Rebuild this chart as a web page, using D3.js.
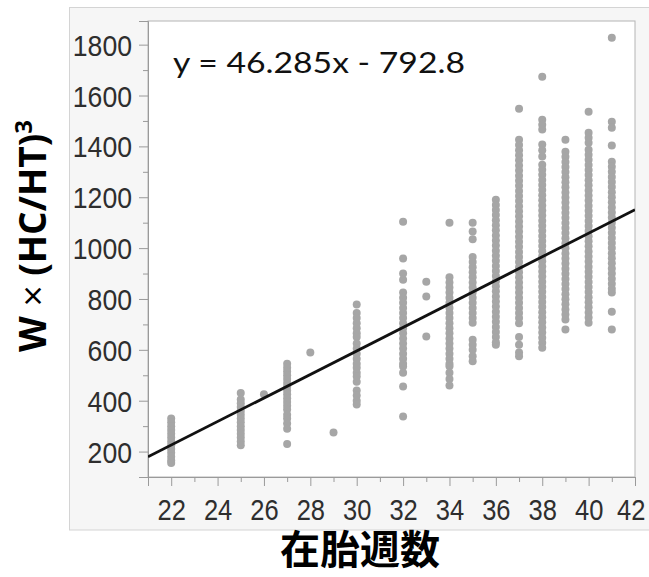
<!DOCTYPE html>
<html>
<head>
<meta charset="utf-8">
<script src="https://cdn.jsdelivr.net/npm/d3@7"></script>
<style>
  html, body { margin: 0; padding: 0; background: #ffffff; }
  svg { display: block; }
</style>
</head>
<body>
<svg id="chart" width="649" height="577"></svg>
<script>
// Gestational week (x) and W×(HC/HT)³ measurements (y), one array per week
const w22 = [330, 315, 300, 285, 270, 255, 240, 225, 210, 195, 180, 165, 155];
const w25 = [430, 405, 390, 375, 360, 345, 330, 315, 300, 285, 270, 255, 240, 225];
const w26 = [425];
const w27 = [545, 530, 515, 500, 485, 470, 455, 440, 425, 410, 395, 380, 365, 345, 330, 310, 290, 230];
const w28 = [590];
const w29 = [275];
const w30 = [778, 745, 725, 705, 685, 665, 650, 625, 605, 585, 565, 545, 530, 510, 495, 475, 440, 420, 400, 385];
const w32 = [1104, 959, 900, 876, 825, 805, 785, 765, 745, 725, 705, 685, 665, 645, 625, 605, 585, 565, 545, 534, 510, 456, 338];
const w33 = [868, 810, 652];
const w34 = [1100, 885, 865, 845, 825, 805, 785, 765, 745, 725, 705, 685, 665, 645, 625, 605, 585, 565, 545, 535, 510, 485, 460];
const w35 = [1100, 1065, 1035, 965, 945, 925, 905, 885, 865, 845, 825, 805, 785, 765, 745, 725, 707, 640, 620, 600, 575, 555];
const w36 = [1190, 1170, 1150, 1130, 1110, 1090, 1070, 1050, 1030, 1010, 990, 970, 950, 930, 910, 890, 870, 850, 830, 810, 790, 770, 750, 730, 710, 690, 670, 650, 630, 620];
const w37 = [1548, 1426, 1405, 1385, 1365, 1345, 1325, 1305, 1285, 1265, 1245, 1225, 1205, 1185, 1165, 1145, 1125, 1105, 1085, 1065, 1045, 1025, 1005, 985, 965, 945, 925, 905, 885, 865, 845, 825, 805, 785, 765, 745, 725, 705, 650, 620, 590, 575];
const w38 = [1674, 1505, 1485, 1466, 1407, 1385, 1360, 1328, 1308, 1288, 1268, 1248, 1228, 1208, 1188, 1168, 1148, 1128, 1108, 1088, 1068, 1048, 1028, 1008, 988, 968, 948, 928, 908, 888, 868, 848, 828, 808, 788, 768, 748, 728, 708, 688, 668, 648, 628, 608];
const w39 = [1426, 1379, 1359, 1339, 1319, 1299, 1279, 1259, 1239, 1219, 1199, 1179, 1159, 1139, 1119, 1099, 1079, 1059, 1039, 1019, 999, 979, 959, 939, 919, 899, 879, 859, 839, 819, 799, 779, 759, 739, 719, 680];
const w40 = [1536, 1454, 1434, 1414, 1387, 1367, 1347, 1327, 1307, 1287, 1267, 1247, 1227, 1207, 1187, 1167, 1147, 1127, 1107, 1087, 1067, 1047, 1027, 1007, 987, 967, 947, 927, 907, 887, 867, 847, 827, 807, 787, 767, 747, 727, 707];
const w41 = [1827, 1497, 1473, 1403, 1340, 1320, 1300, 1280, 1260, 1240, 1220, 1200, 1180, 1160, 1140, 1120, 1100, 1080, 1060, 1040, 1020, 1000, 980, 960, 940, 920, 900, 880, 860, 840, 825, 750, 680];

const weeks = [22, 25, 26, 27, 28, 29, 30, 32, 33, 34, 35, 36, 37, 38, 39, 40, 41];
const weekValues = [w22, w25, w26, w27, w28, w29, w30, w32, w33, w34, w35, w36, w37, w38, w39, w40, w41];

// Regression fit y = slope·x + intercept
const slope = 46.285;
const intercept = -792.8;
const equationLabel = "y = 46.285x - 792.8";

const xTicks = [22, 24, 26, 28, 30, 32, 34, 36, 38, 40, 42];
const xMinorTicks = [21, 23, 25, 27, 29, 31, 33, 35, 37, 39, 41];
const yTicks = [200, 400, 600, 800, 1000, 1200, 1400, 1600, 1800];
const yMinorTicks = [100, 300, 500, 700, 900, 1100, 1300, 1500, 1700];

const xTitle = "在胎週数";

const points = [];
weeks.forEach((wk, i) => weekValues[i].forEach(v => points.push({ week: wk, value: v })));

const svg = d3.select("#chart");

const plot = { left: 148, right: 635, top: 21, bottom: 477 };

const x = d3.scaleLinear().domain([21, 42]).range([plot.left, plot.right]);
const y = d3.scaleLinear().domain([100, 1893]).range([plot.bottom, plot.top]);

// Outer panel
svg.append("rect")
  .attr("x", 69.5).attr("y", 7.5)
  .attr("width", 600).attr("height", 522.5)
  .attr("fill", "#f6f6f6")
  .attr("stroke", "#d4d4d4");

// Plot area
svg.append("rect")
  .attr("x", plot.left).attr("y", plot.top)
  .attr("width", plot.right - plot.left).attr("height", plot.bottom - plot.top)
  .attr("fill", "#ffffff")
  .attr("stroke", "#b4b4b4")
  .attr("stroke-width", 1);

const tickFont = "'Liberation Sans Narrow', 'Liberation Sans', Arial, sans-serif";

// Y axis (major + minor)
const yAxis = svg.append("g")
  .attr("transform", `translate(${plot.left},0)`)
  .call(d3.axisLeft(y).tickValues(yTicks).tickSize(9).tickPadding(7).tickFormat(d3.format("d")));
svg.append("g")
  .attr("transform", `translate(${plot.left},0)`)
  .call(d3.axisLeft(y).tickValues(yMinorTicks).tickSize(5).tickFormat(""))
  .call(g => g.select(".domain").remove());

// X axis (major + minor)
const xAxis = svg.append("g")
  .attr("transform", `translate(0,${plot.bottom})`)
  .call(d3.axisBottom(x).tickValues(xTicks).tickSize(9).tickPadding(8).tickFormat(d3.format("d")));
svg.append("g")
  .attr("transform", `translate(0,${plot.bottom})`)
  .call(d3.axisBottom(x).tickValues(xMinorTicks).tickSize(5).tickFormat(""))
  .call(g => g.select(".domain").remove());

svg.selectAll(".tick line").attr("stroke", "#9a9a9a");
svg.selectAll(".domain").attr("stroke", "#9a9a9a");

yAxis.selectAll("text")
  .attr("font-family", tickFont)
  .attr("font-size", 30)
  .attr("fill", "#2e2e2e")
  .attr("dy", "10.5px")
  .attr("x", -16)
  .attr("textLength", d => String(d).length * 14.8)
  .attr("lengthAdjust", "spacingAndGlyphs");

// Last x label sits at the panel edge, so it is right-anchored inside it
const lastX = xTicks[xTicks.length - 1];
xAxis.selectAll("text")
  .attr("font-family", tickFont)
  .attr("font-size", 30)
  .attr("fill", "#2e2e2e")
  .attr("dy", 0)
  .attr("y", 43)
  .attr("text-anchor", d => (d === lastX ? "end" : "middle"))
  .attr("x", d => (d === lastX ? 10 : 0))
  .attr("textLength", d => String(d).length * 14.2)
  .attr("lengthAdjust", "spacingAndGlyphs");

// Scatter points
const clipId = "plot-clip";
svg.append("clipPath").attr("id", clipId)
  .append("rect")
  .attr("x", plot.left).attr("y", plot.top)
  .attr("width", plot.right - plot.left).attr("height", plot.bottom - plot.top);

svg.append("g")
  .attr("clip-path", `url(#${clipId})`)
  .selectAll("circle")
  .data(points)
  .join("circle")
  .attr("cx", d => x(d.week))
  .attr("cy", d => y(d.value))
  .attr("r", 4)
  .attr("fill", "#a6a6a6");

// Regression line
const [x0, x1] = x.domain();
svg.append("line")
  .attr("clip-path", `url(#${clipId})`)
  .attr("x1", x(x0)).attr("y1", y(slope * x0 + intercept))
  .attr("x2", x(x1)).attr("y2", y(slope * x1 + intercept))
  .attr("stroke", "#111111")
  .attr("stroke-width", 2.8);

// Equation
svg.append("text")
  .attr("x", 173).attr("y", 73)
  .attr("font-family", "Lato, 'Open Sans', sans-serif")
  .attr("font-size", 29)
  .attr("fill", "#111111")
  .attr("textLength", 292)
  .attr("lengthAdjust", "spacingAndGlyphs")
  .text(equationLabel);

// Y axis title
const yTitle = svg.append("text")
  .attr("transform", "translate(46,236) rotate(-90)")
  .attr("text-anchor", "middle")
  .attr("font-family", "'Open Sans', Lato, sans-serif")
  .attr("font-size", 37)
  .attr("font-weight", "bold")
  .attr("fill", "#000000");
yTitle.append("tspan").text("W");
yTitle.append("tspan").attr("font-weight", "normal").text(" × ");
yTitle.append("tspan").text("(HC/HT)");
yTitle.append("tspan").attr("font-size", 24).attr("dy", -14).text("3");

// X axis title
svg.append("text")
  .attr("x", 360).attr("y", 564)
  .attr("text-anchor", "middle")
  .attr("font-family", "'Noto Sans CJK JP', sans-serif")
  .attr("font-size", 40)
  .attr("font-weight", "bold")
  .attr("fill", "#000000")
  .text(xTitle);
</script>
</body>
</html>
